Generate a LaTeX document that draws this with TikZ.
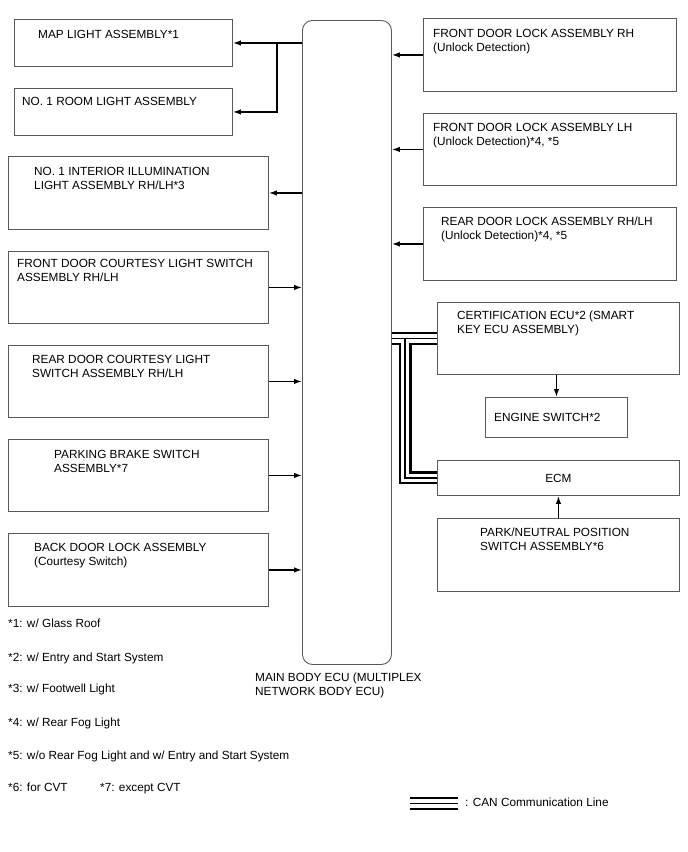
\documentclass[tikz,border=0pt]{standalone}
\usepackage{fontspec}
\setmainfont{Liberation Sans}
\usetikzlibrary{arrows.meta}
\begin{document}
\begin{tikzpicture}[x=1pt,y=-1pt,
  box/.style={draw=black!65,line width=0.9pt,rectangle,inner sep=0pt,anchor=north west},
  txt/.style={anchor=base west,inner sep=0pt,align=left,font=\fontsize{11.8}{14}\selectfont},
  arr/.style={line width=1.4pt,-{Latex[length=8pt,width=5.5pt]}},
  canb/.style={line width=13pt,black,miter limit=10},
  canw/.style={line width=8.6pt,white},
  canc/.style={line width=1.1pt,black}]
\useasboundingbox[fill=white] (0,0) rectangle (688,852);
% main ECU
\node[box,rounded corners=10pt,minimum width=89pt,minimum height=644pt] (ecu) at (302,20) {};
\node[txt] (ecuT) at (255,695.5) {MAIN BODY ECU (MULTIPLEX\\NETWORK BODY ECU)};
% left boxes
\node[box,minimum width=218pt,minimum height=47pt] (map) at (14,19) {};
\node[txt] (mapT) at (38,38.5) {MAP LIGHT ASSEMBLY*1};
\node[box,minimum width=218pt,minimum height=47pt] (room) at (14,88) {};
\node[txt] (roomT) at (22,105.5) {NO. 1 ROOM LIGHT ASSEMBLY};
\node[box,minimum width=260pt,minimum height=73pt] (int) at (8,156) {};
\node[txt] (intT) at (34,189.5) {NO. 1 INTERIOR ILLUMINATION\\LIGHT ASSEMBLY RH/LH*3};
\node[box,minimum width=260pt,minimum height=72pt] (fdc) at (8,251) {};
\node[txt] (fdcT) at (17,281.5) {FRONT DOOR COURTESY LIGHT SWITCH\\ASSEMBLY RH/LH};
\node[box,minimum width=260pt,minimum height=72pt] (rdc) at (8,345) {};
\node[txt] (rdcT) at (32,377.5) {REAR DOOR COURTESY LIGHT\\SWITCH ASSEMBLY RH/LH};
\node[box,minimum width=260pt,minimum height=72pt] (pkb) at (8,439) {};
\node[txt] (pkbT) at (54,472.5) {PARKING BRAKE SWITCH\\ASSEMBLY*7};
\node[box,minimum width=260pt,minimum height=73pt] (bdl) at (8,533) {};
\node[txt] (bdlT) at (34,565.5) {BACK DOOR LOCK ASSEMBLY\\(Courtesy Switch)};
% right boxes
\node[box,minimum width=253pt,minimum height=73pt] (fdr) at (423,18) {};
\node[txt] (fdrT) at (433,51.5) {FRONT DOOR LOCK ASSEMBLY RH\\(Unlock Detection)};
\node[box,minimum width=253pt,minimum height=72pt] (fdl) at (423,113) {};
\node[txt] (fdlT) at (433,145.5) {FRONT DOOR LOCK ASSEMBLY LH\\(Unlock Detection)*4, *5};
\node[box,minimum width=253pt,minimum height=73pt] (rdl) at (423,207) {};
\node[txt] (rdlT) at (441,239.5) {REAR DOOR LOCK ASSEMBLY RH/LH\\(Unlock Detection)*4, *5};
\node[box,minimum width=242pt,minimum height=72pt] (cert) at (437,302) {};
\node[txt] (certT) at (457,333.5) {CERTIFICATION ECU*2 (SMART\\KEY ECU ASSEMBLY)};
\node[box,minimum width=142pt,minimum height=40pt] (eng) at (485,397) {};
\node[txt] (engT) at (494,421.5) {ENGINE SWITCH*2};
\node[box,minimum width=242pt,minimum height=35pt] (ecm) at (437,460) {};
\node[txt,anchor=center] (ecmT) at (ecm.center) {ECM};
\node[box,minimum width=242pt,minimum height=73pt] (pns) at (437,518) {};
\node[txt] (pnsT) at (480,550.5) {PARK/NEUTRAL POSITION\\SWITCH ASSEMBLY*6};
% arrows left
\coordinate (br) at (277,0 |- map.east);
\draw[arr] (ecu.west |- map.east) -- (map.east);
\draw[arr] (br) |- (room.east);
\draw[arr] (ecu.west |- int.east) -- (int.east);
\draw[arr] (fdc.east) -- (ecu.west |- fdc.east);
\draw[arr] (rdc.east) -- (ecu.west |- rdc.east);
\draw[arr] (pkb.east) -- (ecu.west |- pkb.east);
\draw[arr] (bdl.east) -- (ecu.west |- bdl.east);
% arrows right
\draw[arr] (fdr.west) -- (ecu.east |- fdr.west);
\draw[arr] (fdl.west) -- (ecu.east |- fdl.west);
\draw[arr] (rdl.west) -- (ecu.east |- rdl.west);
\draw[arr] (cert.south -| eng.north) -- (eng.north);
\draw[arr] (pns.north) -- (pns.north |- ecm.south);
% CAN lines
\coordinate (cj) at (405,0 |- cert.west);
\coordinate (cc) at (405,0 |- ecm.west);
\coordinate (lg1) at (410,803.5);
\coordinate (lg2) at (458,803.5);
\draw[canb] (ecu.east |- cert.west) -- (cert.west);
\draw[canb,line join=miter] (cj) -- (cc) -- (ecm.west);
\draw[canb] (lg1) -- (lg2);
\draw[canw] (ecu.east |- cert.west) -- (cert.west);
\draw[canw,line join=miter] (cj) -- (cc) -- (ecm.west);
\draw[canw] (lg1) -- (lg2);
\draw[canc] (ecu.east |- cert.west) -- (cert.west);
\draw[canc] (cj) -- (cc) -- (ecm.west);
\draw[canc] (lg1) -- (lg2);
\node[txt] (canT) at (465,806) {: CAN Communication Line};
% notes
\node[txt] (n1) at (8,627.5) {*1: w/ Glass Roof};
\node[txt] (n2) at (8,661.5) {*2: w/ Entry and Start System};
\node[txt] (n3) at (8,692.5) {*3: w/ Footwell Light};
\node[txt] (n4) at (8,726.5) {*4: w/ Rear Fog Light};
\node[txt] (n5) at (8,759.5) {*5: w/o Rear Fog Light and w/ Entry and Start System};
\node[txt] (n6) at (8,791.5) {*6: for CVT};
\node[txt] (n7) at (100,791.5) {*7: except CVT};
\end{tikzpicture}
\end{document}
